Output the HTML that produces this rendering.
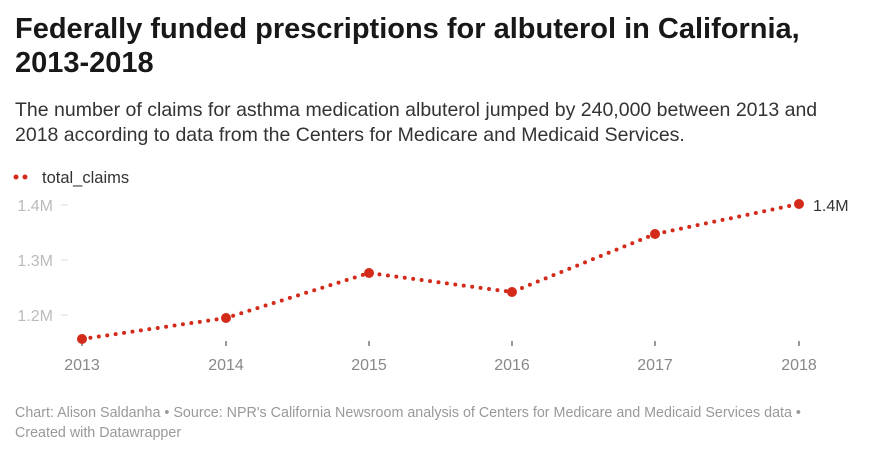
<!DOCTYPE html>
<html><head><style>
body{margin:0;width:880px;height:454px;background:#fff;font-family:"Liberation Sans",sans-serif;overflow:hidden;position:relative}
h1{position:absolute;left:15px;top:12px;margin:0;font-size:29px;line-height:34px;font-weight:bold;color:#181818;width:850px}
.sub{position:absolute;left:15px;top:98px;font-size:19.5px;line-height:25px;color:#333;width:830px}
.foot{position:absolute;left:15px;top:403px;font-size:14.3px;line-height:20px;color:#999;width:840px}
</style></head><body>
<h1>Federally funded prescriptions for albuterol in California, 2013-2018</h1>
<div class="sub">The number of claims for asthma medication albuterol jumped by 240,000 between 2013 and 2018 according to data from the Centers for Medicare and Medicaid Services.</div>
<svg width="880" height="454" style="position:absolute;left:0;top:0" font-family="Liberation Sans, sans-serif">
<circle cx="16" cy="177" r="2.5" fill="#d42a1a"/><circle cx="25" cy="177" r="2.5" fill="#d42a1a"/>
<text x="42" y="183" font-size="16.5" fill="#333">total_claims</text>
<g font-size="16" fill="#bbb" text-anchor="end">
<text x="53" y="211">1.4M</text><text x="53" y="266">1.3M</text><text x="53" y="321">1.2M</text></g>
<g stroke="#ddd" stroke-width="1"><line x1="61" x2="68" y1="205" y2="205"/><line x1="61" x2="68" y1="260" y2="260"/><line x1="61" x2="68" y1="315" y2="315"/></g>
<g stroke="#333" stroke-width="1"><line x1="82" x2="82" y1="341" y2="346"/><line x1="226" x2="226" y1="341" y2="346"/><line x1="369" x2="369" y1="341" y2="346"/><line x1="512" x2="512" y1="341" y2="346"/><line x1="655" x2="655" y1="341" y2="346"/><line x1="799" x2="799" y1="341" y2="346"/></g>
<g font-size="16" fill="#888" text-anchor="middle">
<text x="82" y="370">2013</text><text x="226" y="370">2014</text><text x="369" y="370">2015</text><text x="512" y="370">2016</text><text x="655" y="370">2017</text><text x="799" y="370">2018</text></g>
<polyline points="82,339 226,318 369,273 512,292 655,234 799,204" fill="none" stroke="#d42a1a" stroke-width="4" stroke-linecap="round" stroke-dasharray="0 8.5"/>
<g fill="#d42a1a"><circle cx="82" cy="339" r="5"/><circle cx="226" cy="318" r="5"/><circle cx="369" cy="273" r="5"/><circle cx="512" cy="292" r="5"/><circle cx="655" cy="234" r="5"/><circle cx="799" cy="204" r="5"/></g>
<text x="813" y="211" font-size="16" fill="#333">1.4M</text>
</svg>
<div class="foot">Chart: Alison Saldanha • Source: NPR's California Newsroom analysis of Centers for Medicare and Medicaid Services data • Created with Datawrapper</div>
</body></html>
